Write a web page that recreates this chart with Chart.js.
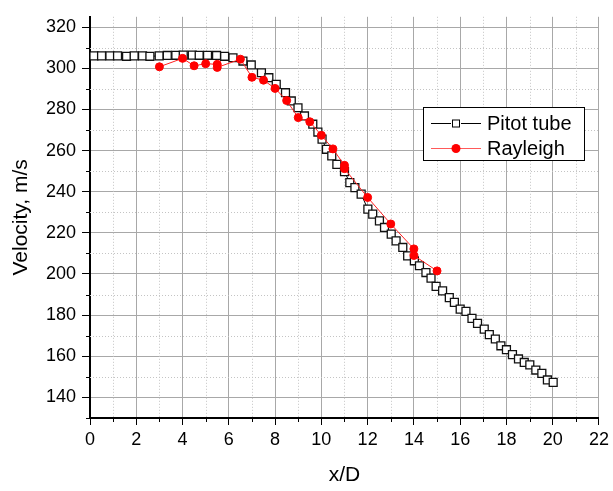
<!DOCTYPE html>
<html><head><meta charset="utf-8">
<script src="https://cdn.jsdelivr.net/npm/chart.js@4"></script>
<style>html,body{margin:0;padding:0;background:#fff}#wrap{width:613px;height:491px;position:relative}</style>
</head><body><div id="wrap"><canvas id="c" width="613" height="491"></canvas></div>
<script>
const pitotX = [0.17,0.5,0.86,1.19,1.58,1.91,2.27,2.59,2.99,3.34,3.71,4.03,4.42,4.72,5.08,5.47,5.82,6.18,6.61,6.97,7.41,7.73,8.05,8.45,8.7,8.99,9.27,9.63,9.85,10.03,10.22,10.45,10.67,11.0,11.23,11.45,11.72,12.01,12.22,12.51,12.73,13.02,13.23,13.52,13.73,14.02,14.24,14.52,14.74,14.96,15.24,15.53,15.75,16.0,16.25,16.51,16.75,17.04,17.26,17.52,17.76,18.0,18.26,18.52,18.77,19.01,19.27,19.53,19.77,20.02];
const pitotY = [306,306,306,306,305.8,306,306,305.8,306,306.2,306.3,306.4,306.4,306.3,306.3,306.2,305.8,305.1,303.5,301.6,297.8,295.4,292.2,288.1,284.1,280.8,276.8,272.8,269,265.5,260.6,257.4,253.3,249.7,244.4,242,238.8,231.5,229.1,225.8,222.6,219.4,216.1,212.9,208.8,206.4,204,200.7,198,194,191.8,188.5,186.2,182.9,181.8,178.4,176,173.2,170.5,168.4,165.1,163.2,160.8,158.7,157,155.8,153.3,151.7,148.5,147.3];
const rayleighX = [3,4,4.5,5,5.5,5.5,6.5,7,7.5,8,8.5,9,9.5,10,10.5,11,11,12,13,14,14,15];
const rayleighY = [300.7,304.8,301.2,302.2,301.9,300.4,304.4,295.6,294.2,290.2,284.3,276,274,267.4,260.8,252.8,251.2,237.2,224.3,212.2,209,201.5];
const xTicks = [0,2,4,6,8,10,12,14,16,18,20,22];
const yTicks = [140,160,180,200,220,240,260,280,300,320];
const xMinor = [1,3,5,7,9,11,13,15,17,19,21];
const yMinor = [130,150,170,190,210,230,250,270,290,310];
const seriesNames = ['Pitot tube','Rayleigh'];

const FONT = "'Liberation Sans', Arial, sans-serif";

const minorPlugin = {
  id: 'minorGrid',
  beforeDatasetsDraw(chart) {
    const {ctx, chartArea: a, scales: {x, y}} = chart;
    ctx.save();
    ctx.strokeStyle = '#c4c4c4';
    ctx.lineWidth = 1;
    ctx.setLineDash([1, 2]);
    xMinor.forEach(v => {
      const px = Math.round(x.getPixelForValue(v)) + 0.5;
      ctx.beginPath(); ctx.moveTo(px, a.top); ctx.lineTo(px, a.bottom); ctx.stroke();
    });
    yMinor.forEach(v => {
      const py = Math.round(y.getPixelForValue(v)) + 0.5;
      if (py > a.bottom - 2) return;
      ctx.beginPath(); ctx.moveTo(a.left, py); ctx.lineTo(a.right, py); ctx.stroke();
    });
    ctx.setLineDash([]);
    ctx.strokeStyle = '#000';
    xMinor.forEach(v => {
      const px = Math.round(x.getPixelForValue(v)) + 0.5;
      ctx.beginPath(); ctx.moveTo(px, a.bottom); ctx.lineTo(px, a.bottom + 4); ctx.stroke();
    });
    yMinor.forEach(v => {
      const py = Math.round(y.getPixelForValue(v)) + 0.5;
      ctx.beginPath(); ctx.moveTo(a.left - 4, py); ctx.lineTo(a.left, py); ctx.stroke();
    });
    ctx.restore();
  }
};

const legendPlugin = {
  id: 'boxLegend',
  afterDraw(chart) {
    const ctx = chart.ctx;
    const L = 423, T = 107, W = 161, H = 53;
    ctx.save();
    ctx.fillStyle = '#fff';
    ctx.fillRect(L, T, W, H);
    ctx.strokeStyle = '#000';
    ctx.lineWidth = 1;
    ctx.strokeRect(L + 0.5, T + 0.5, W, H);
    let yy = 123.5;
    ctx.beginPath(); ctx.moveTo(431, yy); ctx.lineTo(451, yy); ctx.moveTo(461, yy); ctx.lineTo(481, yy); ctx.stroke();
    ctx.fillStyle = '#fff';
    ctx.fillRect(452.5, yy - 3.5, 7, 7);
    ctx.strokeRect(452.5, yy - 3.5, 7, 7);
    yy = 148.5;
    ctx.strokeStyle = '#ff5a5a';
    ctx.beginPath(); ctx.moveTo(431, yy); ctx.lineTo(481, yy); ctx.stroke();
    ctx.fillStyle = '#ff0000';
    ctx.beginPath(); ctx.arc(456, yy, 4.5, 0, Math.PI * 2); ctx.fill();
    ctx.fillStyle = '#000';
    ctx.font = '20px ' + FONT;
    ctx.textBaseline = 'middle';
    ctx.textAlign = 'left';
    ctx.fillText(seriesNames[0], 487, 124);
    ctx.fillText(seriesNames[1], 487, 149);
    ctx.restore();
  }
};

const pitotData = pitotX.map((v, i) => ({x: v, y: pitotY[i]}));
const rayData = rayleighX.map((v, i) => ({x: v, y: rayleighY[i]}));

new Chart(document.getElementById('c'), {
  type: 'scatter',
  data: {
    datasets: [
      {
        label: seriesNames[1], data: rayData, showLine: true, order: 1,
        borderColor: '#ff2020', borderWidth: 1,
        pointStyle: 'circle', pointRadius: 4, pointBorderWidth: 1,
        pointBackgroundColor: '#ff0000', pointBorderColor: '#ff0000'
      },
      {
        label: seriesNames[0], data: pitotData, showLine: true, order: 2,
        borderColor: '#000', borderWidth: 1,
        pointStyle: 'rect', pointRadius: 5.6, pointBorderWidth: 1.3,
        pointBackgroundColor: '#fff', pointBorderColor: '#111'
      }
    ]
  },
  options: {
    responsive: false,
    animation: false,
    devicePixelRatio: 1,
    layout: {padding: {top: 15, right: 13, left: 0, bottom: 0}},
    plugins: {legend: {display: false}, tooltip: {enabled: false}},
    scales: {
      x: {
        type: 'linear', min: 0, max: 22,
        afterBuildTicks: s => { s.ticks = xTicks.map(v => ({value: v})); },
        afterFit: s => { s.height = 73; },
        grid: {color: '#a8a8a8', lineWidth: 1, tickColor: '#000', tickLength: 7, drawTicks: true},
        border: {color: '#000', width: 2},
        ticks: {color: '#000', font: {family: FONT, size: 18}, padding: 4, maxRotation: 0, autoSkip: false},
        title: {display: true, text: 'x/D', color: '#000', font: {family: FONT, size: 21}, padding: {top: 0, bottom: 3}}
      },
      y: {
        type: 'linear', min: 130, max: 325,
        afterBuildTicks: s => { s.ticks = yTicks.map(v => ({value: v})); },
        afterFit: s => { s.width = 90; },
        grid: {color: '#a8a8a8', lineWidth: 1, tickColor: '#000', tickLength: 8, drawTicks: true},
        border: {color: '#000', width: 2},
        ticks: {color: '#000', font: {family: FONT, size: 18}, padding: 6, autoSkip: false},
        title: {display: true, text: 'Velocity, m/s', color: '#000', font: {family: FONT, size: 21}, padding: {top: 9, bottom: 0}}
      }
    }
  },
  plugins: [minorPlugin, legendPlugin]
});
</script>
</body></html>
